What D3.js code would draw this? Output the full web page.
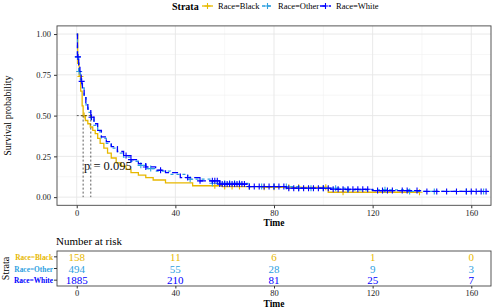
<!DOCTYPE html>
<html>
<head>
<meta charset="utf-8">
<script src="https://d3js.org/d3.v7.min.js"></script>
<style>
  body { margin: 0; background: #fff; }
  svg { font-family: "Liberation Serif", "DejaVu Serif", serif; }
</style>
</head>
<body>
<div id="chart"></div>
<script>
// strata and colours
const strata = ["Race=Black", "Race=Other", "Race=White"];
const colors = ["#E7B800", "#2E9FDF", "#0000FF"];
const dashes = [null, "3,3", "6,3"];

// Kaplan-Meier steps
const blackTimes = [0, 0.4, 1, 1.6, 2.2, 2.6, 3.5, 4.5, 5.5, 6.5, 7.5, 8.5, 9.5, 11, 12.5, 14, 16, 18, 20, 22, 25, 28, 31, 36, 47, 59, 75, 102, 139];
const blackSurv = [1, 0.82, 0.74, 0.65, 0.56, 0.50, 0.47, 0.45, 0.43, 0.41, 0.39, 0.36, 0.33, 0.30, 0.27, 0.24, 0.21, 0.19, 0.17, 0.15, 0.135, 0.12, 0.105, 0.088, 0.07, 0.065, 0.06, 0.03, 0.03];
const otherTimes = [0, 0.3, 0.8, 1.5, 2.2, 3, 3.8, 4.6, 5.7, 7, 8.5, 10, 12, 14, 16.5, 19, 22, 25, 28, 32, 38, 45, 55, 70, 90, 110, 135, 165];
const otherSurv = [1, 0.86, 0.77, 0.72, 0.67, 0.61, 0.56, 0.52, 0.48, 0.44, 0.40, 0.36, 0.33, 0.30, 0.27, 0.245, 0.22, 0.195, 0.175, 0.16, 0.14, 0.11, 0.085, 0.065, 0.055, 0.045, 0.035, 0.035];
const whiteTimes = [0, 0.3, 0.8, 1.3, 1.8, 2.3, 3, 3.7, 4.5, 5.7, 7, 8.5, 10, 12, 14, 16.5, 19, 22, 25, 28, 32, 36, 42, 50, 58, 70, 85, 103, 120, 140, 167];
const whiteSurv = [1, 0.86, 0.81, 0.77, 0.71, 0.67, 0.62, 0.58, 0.54, 0.49, 0.45, 0.41, 0.37, 0.34, 0.31, 0.28, 0.255, 0.23, 0.205, 0.185, 0.165, 0.15, 0.12, 0.10, 0.08, 0.065, 0.055, 0.048, 0.04, 0.035, 0.035];

// censoring times
const blackCensor = [1.5, 3, 56, 60, 63, 66, 70, 76, 80, 86, 90, 101, 108, 139];
const otherCensor = [0.4, 1, 26, 30, 46, 55, 58, 60, 62, 64, 66, 70, 75, 80, 85, 90, 95, 100, 105, 110, 125, 135, 145, 158, 165];
const whiteCensor = [0.5, 2, 6, 20, 22, 28, 34, 45, 50, 55, 56, 57, 58, 59, 60, 61, 62, 63, 64, 65, 66, 67, 68, 70, 72, 74, 76, 78, 80, 82, 84, 86, 88, 90, 92, 94, 96, 98, 100, 102, 104, 106, 108, 110, 112, 114, 116, 118, 122, 124, 126, 128, 132, 134, 138, 142, 146, 150, 154, 158, 160, 162, 164, 166];

// medians and p value
const medians = [2.6, 5.7];
const pLabel = "p = 0.095";

// number at risk table
const riskTimes = [0, 40, 80, 120, 160];
const riskBlack = [158, 11, 6, 1, 0];
const riskOther = [494, 55, 28, 9, 3];
const riskWhite = [1885, 210, 81, 25, 7];

const xTicks = [0, 40, 80, 120, 160];
const yTicks = [0, 0.25, 0.5, 0.75, 1];

const groups = [
  {name: strata[0], times: blackTimes, surv: blackSurv, censor: blackCensor, risk: riskBlack},
  {name: strata[1], times: otherTimes, surv: otherSurv, censor: otherCensor, risk: riskOther},
  {name: strata[2], times: whiteTimes, surv: whiteSurv, censor: whiteCensor, risk: riskWhite}
];

const W = 496, H = 308;
const svg = d3.select("#chart").append("svg").attr("width", W).attr("height", H);

const x = d3.scaleLinear().domain([-8, 168]).range([57, 491]);
const y = d3.scaleLinear().domain([-0.05, 1.05]).range([205.3, 25.9]);

// grid
const grid = svg.append("g");
d3.range(20, 170, 40).forEach(t => grid.append("line").attr("x1", x(t)).attr("x2", x(t)).attr("y1", y.range()[0]).attr("y2", y.range()[1]).attr("stroke", "#f2f2f2").attr("stroke-width", 0.6));
[0.125, 0.375, 0.625, 0.875].forEach(v => grid.append("line").attr("x1", 57).attr("x2", 491).attr("y1", y(v)).attr("y2", y(v)).attr("stroke", "#f2f2f2").attr("stroke-width", 0.6));
xTicks.forEach(t => grid.append("line").attr("x1", x(t)).attr("x2", x(t)).attr("y1", y.range()[0]).attr("y2", y.range()[1]).attr("stroke", "#e6e6e6").attr("stroke-width", 0.9));
yTicks.forEach(v => grid.append("line").attr("x1", 57).attr("x2", 491).attr("y1", y(v)).attr("y2", y(v)).attr("stroke", "#e6e6e6").attr("stroke-width", 0.9));

// axes
const xAxis = svg.append("g").attr("transform", `translate(0,${y.range()[0]})`)
  .call(d3.axisBottom(x).tickValues(xTicks).tickSize(3).tickPadding(2).tickFormat(d3.format("d")));
const yAxis = svg.append("g").attr("transform", `translate(57,0)`)
  .call(d3.axisLeft(y).tickValues(yTicks).tickSize(3).tickFormat(d3.format(".2f")));
[xAxis, yAxis].forEach(a => {
  a.select(".domain").remove();
  a.selectAll("line").attr("stroke", "#333");
  a.selectAll("text").attr("font-size", 8.5).attr("fill", "#222").attr("font-family", "Liberation Serif");
});

// curves
const line = d3.line().x(d => x(d[0])).y(d => y(d[1])).curve(d3.curveStepAfter);
const survAt = (g, t) => {
  let s = g.surv[0];
  g.times.forEach((tt, i) => { if (tt <= t) s = g.surv[i]; });
  return s;
};
groups.forEach((g, i) => {
  const pts = g.times.map((t, j) => [t, g.surv[j]]);
  svg.append("path").datum(pts).attr("d", line).attr("fill", "none")
    .attr("stroke", colors[i]).attr("stroke-width", 1.3)
    .attr("stroke-dasharray", dashes[i]);
  svg.append("g").selectAll("path").data(g.censor).join("path")
    .attr("d", t => {
      const cx = x(t), cy = y(survAt(g, t));
      return `M${cx - 3},${cy}H${cx + 3}M${cx},${cy - 3}V${cy + 3}`;
    })
    .attr("stroke", colors[i]).attr("stroke-width", 1.1);
});

// median lines
const med = svg.append("g").attr("stroke", "#333").attr("stroke-width", 0.8).attr("stroke-dasharray", "2,2");
med.append("line").attr("x1", x(0)).attr("x2", x(d3.max(medians))).attr("y1", y(0.5)).attr("y2", y(0.5));
medians.forEach(m => med.append("line").attr("x1", x(m)).attr("x2", x(m)).attr("y1", y(0.5)).attr("y2", y(0)));

svg.append("text").attr("x", 84).attr("y", 169.5).attr("font-size", 12.5).attr("fill", "#111").text(pLabel);

// panel border
svg.append("rect").attr("x", 57).attr("y", 25.9).attr("width", 434).attr("height", 179.4)
  .attr("fill", "none").attr("stroke", "#444").attr("stroke-width", 0.9);

// axis titles
svg.append("text").attr("x", x(80)).attr("y", 226).attr("text-anchor", "middle")
  .attr("font-size", 9.5).attr("font-weight", "bold").text("Time");
svg.append("text").attr("transform", `translate(11,${(y.range()[0] + y.range()[1]) / 2}) rotate(-90)`)
  .attr("text-anchor", "middle").attr("font-size", 10).text("Survival probability");

// legend
const leg = svg.append("g");
leg.append("text").attr("x", 172).attr("y", 10).attr("font-size", 10).attr("font-weight", "bold").text("Strata");
const legX = [202, 262, 320];
groups.forEach((g, i) => {
  const lx = legX[i];
  leg.append("line").attr("x1", lx).attr("x2", lx + 11).attr("y1", 6).attr("y2", 6)
    .attr("stroke", colors[i]).attr("stroke-width", 1.3).attr("stroke-dasharray", dashes[i]);
  leg.append("path").attr("d", `M${lx + 2.5},6H${lx + 8.5}M${lx + 5.5},3V9`).attr("stroke", colors[i]).attr("stroke-width", 1.1);
  leg.append("text").attr("x", lx + 16).attr("y", 9).attr("font-size", 8.5).text(g.name);
});

// risk table
svg.append("text").attr("x", 56).attr("y", 245).attr("font-size", 11).text("Number at risk");
const rowY = d3.scaleBand().domain(strata).range([251, 286]);
svg.append("rect").attr("x", 57).attr("y", 251).attr("width", 434).attr("height", 35)
  .attr("fill", "none").attr("stroke", "#444").attr("stroke-width", 0.9);
groups.forEach((g, i) => {
  const cy = rowY(g.name) + rowY.bandwidth() / 2;
  svg.append("g").selectAll("text").data(g.risk).join("text")
    .attr("x", (d, j) => x(riskTimes[j])).attr("y", cy + 4)
    .attr("text-anchor", "middle").attr("font-size", 11).attr("fill", colors[i]).text(d => d);
  svg.append("line").attr("x1", 54).attr("x2", 57).attr("y1", cy).attr("y2", cy).attr("stroke", "#333");
  svg.append("text").attr("x", 53).attr("y", cy + 3).attr("text-anchor", "end")
    .attr("font-size", 7.4).attr("font-weight", "bold").attr("fill", colors[i]).text(g.name);
});
const rAxis = svg.append("g").attr("transform", "translate(0,286)")
  .call(d3.axisBottom(x).tickValues(riskTimes).tickSize(2.5).tickPadding(1).tickFormat(d3.format("d")));
rAxis.select(".domain").remove();
rAxis.selectAll("line").attr("stroke", "#333");
rAxis.selectAll("text").attr("font-size", 8.5).attr("fill", "#222").attr("font-family", "Liberation Serif");
svg.append("text").attr("x", x(80)).attr("y", 306.5).attr("text-anchor", "middle")
  .attr("font-size", 9.5).attr("font-weight", "bold").text("Time");
svg.append("text").attr("transform", "translate(9,268.5) rotate(-90)").attr("text-anchor", "middle")
  .attr("font-size", 10).text("Strata");
</script>
</body>
</html>
